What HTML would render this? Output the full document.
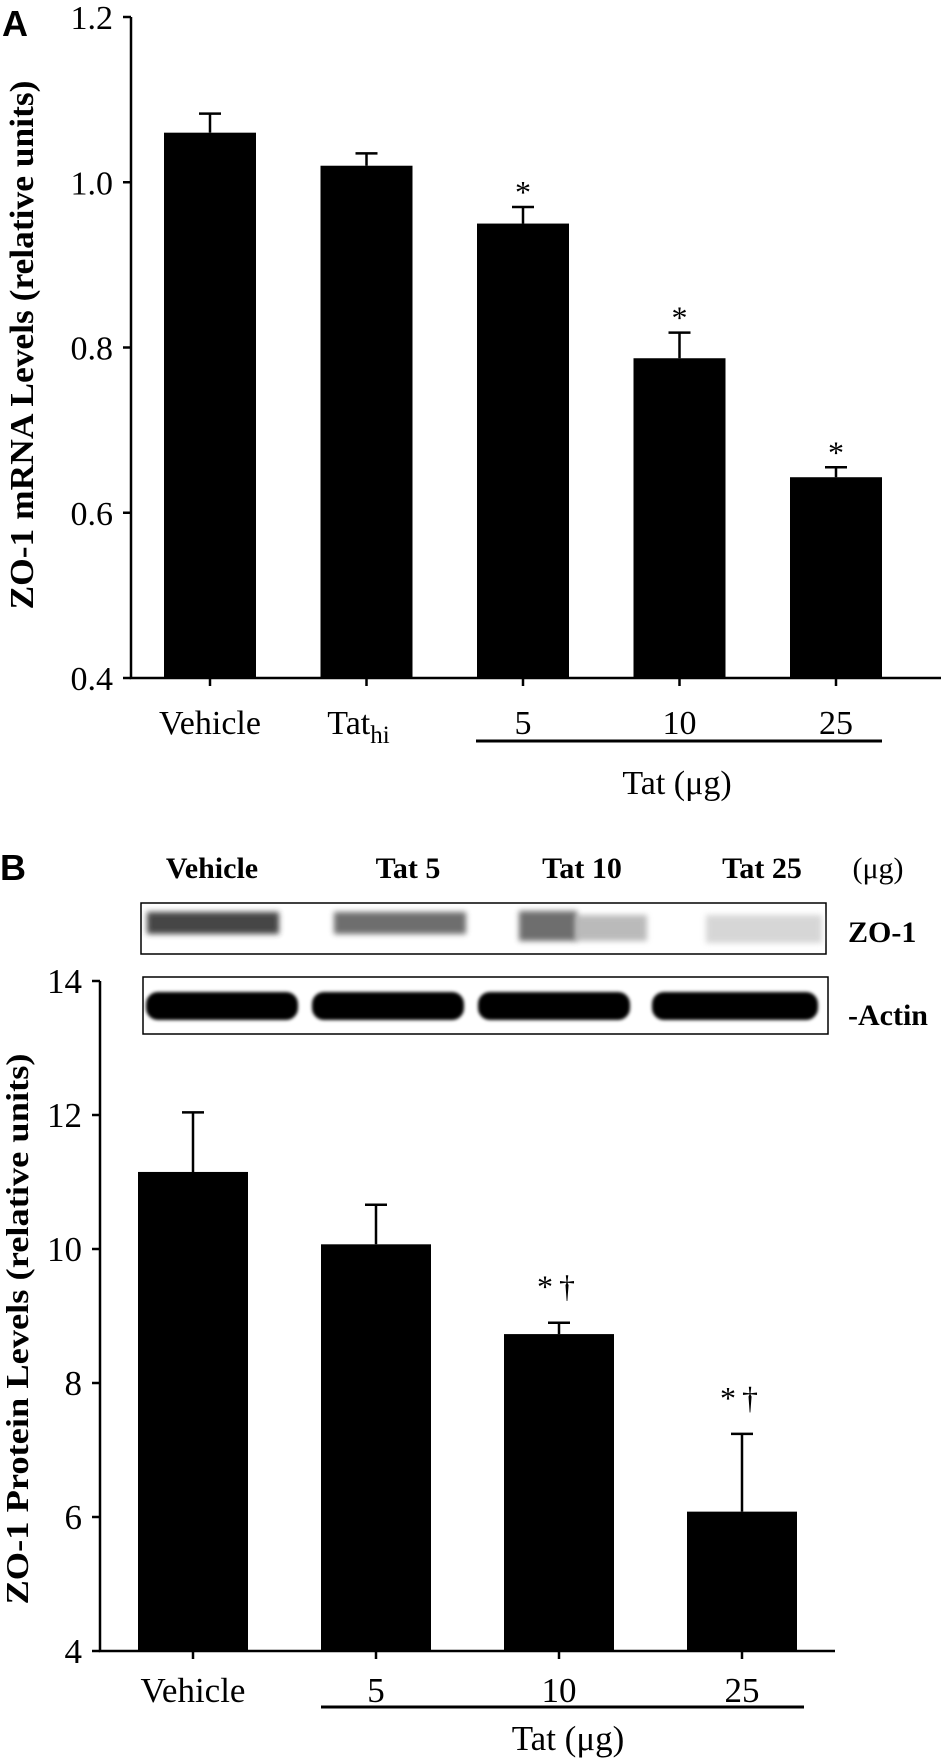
<!DOCTYPE html>
<html><head><meta charset="utf-8"><style>
html,body{margin:0;padding:0;background:#fff}
svg{display:block}
text{font-family:"Liberation Serif",serif;fill:#000}
</style></head><body>
<svg id="chart" width="947" height="1758" viewBox="0 0 947 1758">
<defs>
<filter id="blur" x="-20%" y="-50%" width="140%" height="200%"><feGaussianBlur stdDeviation="3"/></filter>
<filter id="blur2" x="-20%" y="-50%" width="140%" height="200%"><feGaussianBlur stdDeviation="1.5"/></filter>
</defs>
<g id="panelA"></g>
<g id="panelB"></g>
</svg>
<script>
const catsA = ["Vehicle", "Tat_hi", "5", "10", "25"];
const valsA = [1.06, 1.02, 0.95, 0.787, 0.643];
const errA = [0.023, 0.015, 0.02, 0.031, 0.012];
const sigA = ["", "", "*", "*", "*"];
const ticksA = ["0.4", "0.6", "0.8", "1.0", "1.2"];

const catsB = ["Vehicle", "5", "10", "25"];
const valsB = [11.15, 10.07, 8.73, 6.08];
const errB = [0.89, 0.59, 0.17, 1.16];
const sigB = ["", "", "*\u2020", "*\u2020"];
const ticksB = ["4", "6", "8", "10", "12", "14"];

const NS = "http://www.w3.org/2000/svg";
function mk(parent, tag, attrs, txt) {
  const e = document.createElementNS(NS, tag);
  for (const k in attrs) e.setAttribute(k, attrs[k]);
  if (txt !== undefined) e.textContent = txt;
  parent.appendChild(e);
  return e;
}

// Panel A
(function(){
  const g = document.getElementById('panelA');
  const x0 = 131, xEnd = 941, yTop = 17, yBot = 678, vmin = 0.4, vmax = 1.2;
  const y = v => yBot - (v - vmin) / (vmax - vmin) * (yBot - yTop);
  const xc = i => 210 + i * 156.5;
  const bw = 92;
  let t = mk(g, 'text', {x: 2, y: 36, 'font-size': 36, 'font-weight': 'bold', style: 'font-family:"Liberation Sans",sans-serif'}, 'A');
  
  
  let ax = mk(g, 'path', {d: `M${x0},${yTop} V${yBot} H${xEnd}`, stroke: '#000', 'stroke-width': 2.5, fill: 'none'});
  
  
  ticksA.forEach(tk => {
    const yy = y(parseFloat(tk));
    mk(g, 'line', {x1: x0 - 8, x2: x0, y1: yy, y2: yy, stroke: '#000', 'stroke-width': 2.5});
    const l = mk(g, 'text', {x: 113, y: yy + 12, 'font-size': 34, 'text-anchor': 'end'}, tk);
    
    
  });
  catsA.forEach((c, i) => {
    const cx = xc(i);
    mk(g, 'line', {x1: cx, x2: cx, y1: yBot, y2: yBot + 8, stroke: '#000', 'stroke-width': 2.5});
    const b = mk(g, 'rect', {x: cx - bw/2, y: y(valsA[i]), width: bw, height: yBot - y(valsA[i]), fill: '#000'});
    
    
    const et = y(valsA[i] + errA[i]);
    const e = mk(g, 'path', {d: `M${cx},${y(valsA[i])} V${et} M${cx-11},${et} H${cx+11}`, stroke: '#000', 'stroke-width': 2.5, fill: 'none'});
    
    
    if (sigA[i]) {
      const s = mk(g, 'text', {x: cx, y: et - 4, 'font-size': 32, 'text-anchor': 'middle'}, sigA[i]);
      
      
    }
    let lab;
    if (c === 'Tat_hi') {
      lab = mk(g, 'text', {x: cx - 8, y: 734, 'font-size': 34, 'text-anchor': 'middle'});
      mk(lab, 'tspan', {}, 'Tat');
      mk(lab, 'tspan', {dy: 9, 'font-size': 25}, 'hi');
    } else {
      lab = mk(g, 'text', {x: cx, y: 734, 'font-size': 34, 'text-anchor': 'middle'}, c);
    }
    
    
  });
  const ul = mk(g, 'line', {x1: 476, x2: 882, y1: 741, y2: 741, stroke: '#000', 'stroke-width': 3});
  
  
  const xt = mk(g, 'text', {x: 677, y: 794, 'font-size': 34, 'text-anchor': 'middle'}, 'Tat (\u03bcg)');
  
  
  const yt = mk(g, 'text', {x: 0, y: 0, 'font-size': 34, 'font-weight': 'bold', 'text-anchor': 'middle', textLength: 529, lengthAdjust: 'spacingAndGlyphs', transform: 'translate(33,345) rotate(-90)'}, 'ZO-1 mRNA Levels (relative units)');
  
  
})();

// Panel B
(function(){
  const g = document.getElementById('panelB');
  const x0 = 100, xEnd = 835, yTop = 981, yBot = 1651, vmin = 4, vmax = 14;
  const y = v => yBot - (v - vmin) / (vmax - vmin) * (yBot - yTop);
  const xc = i => 193 + i * 183;
  const bw = 110;
  let t = mk(g, 'text', {x: 0, y: 880, 'font-size': 36, 'font-weight': 'bold', style: 'font-family:"Liberation Sans",sans-serif'}, 'B');
  
  
  const hdr = [["Vehicle",212],["Tat 5",408],["Tat 10",582],["Tat 25",762]];
  hdr.forEach(h => {
    const l = mk(g, 'text', {x: h[1], y: 878, 'font-size': 30, 'font-weight': 'bold', 'text-anchor': 'middle'}, h[0]);
    
    
  });
  let u = mk(g, 'text', {x: 878, y: 878, 'font-size': 30, 'text-anchor': 'middle'}, '(\u03bcg)');
  
  
  const zb = mk(g, 'g', {});
  
  
  mk(zb, 'rect', {x: 141, y: 903, width: 685, height: 51, fill: '#fff', stroke: '#000', 'stroke-width': 1.5});
  mk(zb, 'rect', {x: 147, y: 912, width: 132, height: 22, fill: '#333', filter: 'url(#blur)', opacity: 0.9});
  mk(zb, 'rect', {x: 334, y: 912, width: 132, height: 22, fill: '#555', filter: 'url(#blur)', opacity: 0.85});
  mk(zb, 'rect', {x: 519, y: 911, width: 58, height: 30, fill: '#555', filter: 'url(#blur)', opacity: 0.85});
  mk(zb, 'rect', {x: 575, y: 915, width: 72, height: 26, fill: '#aaa', filter: 'url(#blur)', opacity: 0.8});
  mk(zb, 'rect', {x: 706, y: 915, width: 116, height: 28, fill: '#ccc', filter: 'url(#blur)', opacity: 0.8});
  let zl = mk(g, 'text', {x: 848, y: 942, 'font-size': 30, 'font-weight': 'bold'}, 'ZO-1');
  
  
  const ab = mk(g, 'g', {});
  
  
  mk(ab, 'rect', {x: 143, y: 977, width: 685, height: 57, fill: '#fff', stroke: '#000', 'stroke-width': 1.5});
  [[146,298],[312,464],[478,630],[652,818]].forEach(b => {
    mk(ab, 'rect', {x: b[0], y: 992, width: b[1]-b[0], height: 28, rx: 12, fill: '#000', filter: 'url(#blur2)'});
  });
  let al = mk(g, 'text', {x: 848, y: 1025, 'font-size': 30, 'font-weight': 'bold'}, '-Actin');
  
  
  let ax = mk(g, 'path', {d: `M${x0},${yTop} V${yBot} H${xEnd}`, stroke: '#000', 'stroke-width': 2.5, fill: 'none'});
  
  
  ticksB.forEach(tk => {
    const yy = y(parseFloat(tk));
    mk(g, 'line', {x1: x0 - 8, x2: x0, y1: yy, y2: yy, stroke: '#000', 'stroke-width': 2.5});
    const l = mk(g, 'text', {x: 82, y: yy + 12, 'font-size': 35, 'text-anchor': 'end'}, tk);
    
    
  });
  catsB.forEach((c, i) => {
    const cx = xc(i);
    mk(g, 'line', {x1: cx, x2: cx, y1: yBot, y2: yBot + 8, stroke: '#000', 'stroke-width': 2.5});
    const b = mk(g, 'rect', {x: cx - bw/2, y: y(valsB[i]), width: bw, height: yBot - y(valsB[i]), fill: '#000'});
    
    
    const et = y(valsB[i] + errB[i]);
    const e = mk(g, 'path', {d: `M${cx},${y(valsB[i])} V${et} M${cx-11},${et} H${cx+11}`, stroke: '#000', 'stroke-width': 2.5, fill: 'none'});
    
    
    if (sigB[i]) {
      const s = mk(g, 'text', {x: cx, y: et - 25, 'font-size': 32, 'text-anchor': 'middle', 'letter-spacing': 6}, sigB[i]);
      
      
    }
    const lab = mk(g, 'text', {x: cx, y: 1702, 'font-size': 35, 'text-anchor': 'middle'}, c);
    
    
  });
  const ul = mk(g, 'line', {x1: 321, x2: 804, y1: 1707, y2: 1707, stroke: '#000', 'stroke-width': 3});
  
  
  const xt = mk(g, 'text', {x: 568, y: 1750, 'font-size': 35, 'text-anchor': 'middle'}, 'Tat (\u03bcg)');
  
  
  const yt = mk(g, 'text', {x: 0, y: 0, 'font-size': 32, 'font-weight': 'bold', 'text-anchor': 'middle', textLength: 551, lengthAdjust: 'spacingAndGlyphs', transform: 'translate(28,1329) rotate(-90)'}, 'ZO-1 Protein Levels (relative units)');
  
  
})();
</script>
</body></html>
